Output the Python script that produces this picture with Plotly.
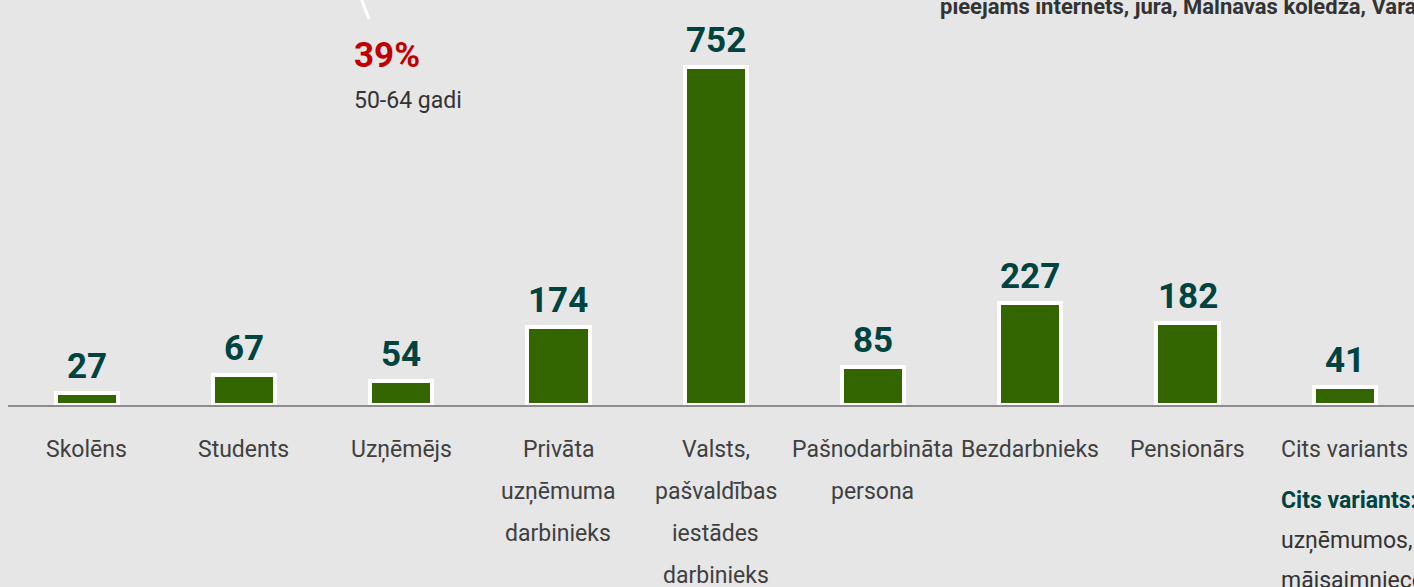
import plotly.graph_objects as go

categories = ["Skolēns", "Students", "Uzņēmējs", "Privāta|uzņēmuma|darbinieks",
              "Valsts,|pašvaldības|iestādes|darbinieks", "Pašnodarbināta|persona",
              "Bezdarbnieks", "Pensionārs", "Cits variants"]
values = [27, 67, 54, 174, 752, 85, 227, 182, 41]

FONT = "Roboto, Liberation Sans, sans-serif"
BG = "#e6e6e6"
TEAL = "#00433f"

W, H = 1414, 587
ML, MT, MB = 8, 0, 182
plot_w = W - ML
plot_h = H - MT - MB
BASE = H - MB  # pixel row of the axis


def px_x(px):
    return (px - ML) / plot_w


def px_y(py):
    return (BASE - py) / plot_h


xs = list(range(len(categories)))

fig = go.Figure()
fig.add_trace(go.Bar(
    x=xs, y=values,
    width=0.395,
    marker=dict(color="#336600", line=dict(color="#ffffff", width=4)),
    hoverinfo="y",
))

fig.update_layout(
    width=W, height=H,
    margin=dict(l=ML, r=0, t=MT, b=MB, pad=0, autoexpand=False),
    paper_bgcolor=BG, plot_bgcolor=BG,
    showlegend=False,
    bargap=0,
    xaxis=dict(
        range=[-0.5, 8.44], showgrid=False, zeroline=False,
        showline=True, linecolor="#8c8c8c", linewidth=1.5,
        ticks="", showticklabels=False, automargin=False,
        fixedrange=True,
    ),
    yaxis=dict(range=[0, 901], visible=False, fixedrange=True, automargin=False),
)

# value labels above the bars
for x, v in zip(xs, values):
    fig.add_annotation(x=x, y=v, xref="x", yref="y", text=f"<b>{v}</b>",
                       showarrow=False, yanchor="bottom", yshift=4,
                       font=dict(family=FONT, size=35, color=TEAL))

# category labels, one annotation per line
LINE_GAP = 42
for x, lab in zip(xs, categories):
    for k, line in enumerate(lab.split("|")):
        fig.add_annotation(x=x, xref="x", yref="paper", y=px_y(449 + k * LINE_GAP),
                           text=line, showarrow=False, yanchor="middle",
                           font=dict(family=FONT, size=23, color="#404040"))

# leader line from the chart above
fig.add_shape(type="line", xref="paper", yref="paper",
              x0=px_x(361), y0=px_y(-2), x1=px_x(369), y1=px_y(19),
              line=dict(color="#ffffff", width=3))

fig.add_annotation(xref="paper", yref="paper", x=px_x(352), y=px_y(55),
                   xanchor="left", yanchor="middle", showarrow=False,
                   text="<b>39%</b>", font=dict(family=FONT, size=35, color="#c00000"))
fig.add_annotation(xref="paper", yref="paper", x=px_x(352), y=px_y(101),
                   xanchor="left", yanchor="middle", showarrow=False,
                   text="50-64 gadi", font=dict(family=FONT, size=23, color="#333333"))
fig.add_annotation(xref="paper", yref="paper", x=px_x(938), y=px_y(22),
                   xanchor="left", yanchor="bottom", showarrow=False,
                   text="<b>pieejams internets, jūra, Malnavas koledža, Varakļāni</b>",
                   font=dict(family=FONT, size=22, color="#333333"))

note_lines = ["<b>Cits variants:</b>", "uzņēmumos, brīvprātīgais", "mājsaimniece"]
note_colors = [TEAL, "#333333", "#333333"]
for k, (t, c) in enumerate(zip(note_lines, note_colors)):
    fig.add_annotation(xref="paper", yref="paper", x=px_x(1279), y=px_y(500 + k * 40),
                       xanchor="left", yanchor="middle", showarrow=False,
                       text=t, font=dict(family=FONT, size=23, color=c))

fig.write_html("out.html",
               config={"displayModeBar": False},
               post_script="document.body.style.margin='0px';"
                           "document.body.style.background='#e6e6e6';"
                           "document.body.style.overflow='hidden';")
